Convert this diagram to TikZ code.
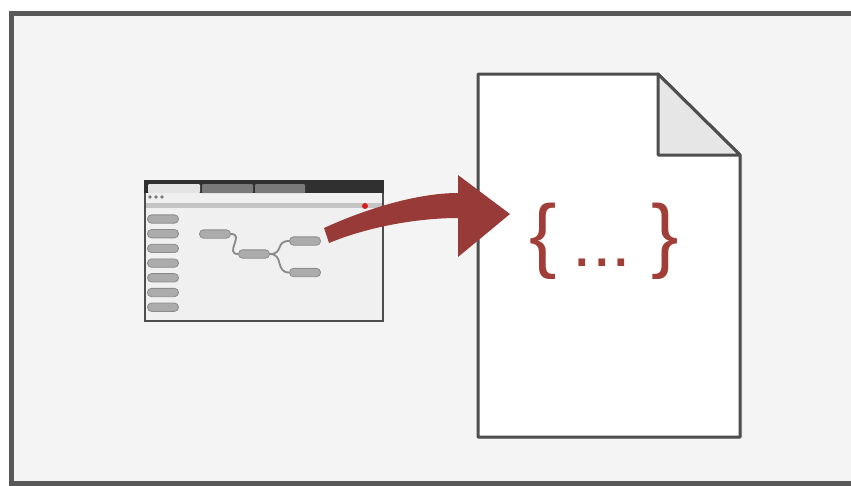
\documentclass[tikz,border=0pt]{standalone}
\usepackage{fontspec}
\setmainfont{Liberation Sans}
\usepackage{tikz}
\usetikzlibrary{shadows}
\definecolor{framegray}{RGB}{88,88,88}
\definecolor{papergray}{RGB}{244,244,244}
\definecolor{linegray}{RGB}{78,78,78}
\definecolor{windowgray}{RGB}{240,240,240}
\definecolor{bardark}{RGB}{48,48,48}
\definecolor{tabgray}{RGB}{122,122,122}
\definecolor{tablight}{RGB}{228,228,228}
\definecolor{addrgray}{RGB}{196,196,196}
\definecolor{pillgray}{RGB}{172,172,172}
\definecolor{pilledge}{RGB}{140,140,140}
\definecolor{wiregray}{RGB}{138,138,138}
\definecolor{arrowred}{RGB}{152,58,56}
\definecolor{bracered}{RGB}{160,62,55}
\definecolor{foldgray}{RGB}{230,230,230}
\definecolor{dotred}{RGB}{214,32,32}
\tikzset{
  browser/.style={
    draw=linegray, fill=windowgray, rectangle,
    minimum width=71.4mm, minimum height=42mm,
    line width=0.6mm, inner sep=0pt
  },
  pill/.style={
    draw=pilledge, fill=pillgray, rectangle, rounded corners=1.2mm,
    minimum width=9.3mm, minimum height=2.5mm,
    line width=0.25mm, inner sep=0pt
  },
  flowwire/.style={draw=wiregray, line width=0.55mm},
  docpage/.style={draw=linegray, fill=white, line width=0.9mm, line join=round},
  brace/.style={text=bracered, inner sep=0pt, font=\fontsize{70}{70}\selectfont},
  frameline/.style={draw=framegray, line width=1.5mm}
}

\begin{document}
\begin{tikzpicture}[x=0.3mm, y=-0.3mm]
  \useasboundingbox (0,0) rectangle (851,485);
  \fill[white] (0,0) rectangle (851,485);

  % Frame
  \fill[papergray] (11,13) rectangle (851,483);
  \draw[frameline] (851,13) -- (11,13) -- (11,483) -- (851,483);

  % Editor window
  \node[browser] (win) at (264,251) {};
  \fill[bardark] (144,180) rectangle (384,193);
  \fill[tablight, rounded corners=0.3mm] (148,184) -- (148,193) -- (200,193) -- (200,184) -- cycle;
  \fill[tabgray, rounded corners=0.3mm] (202,184) -- (202,193) -- (253,193) -- (253,184) -- cycle;
  \fill[tabgray, rounded corners=0.3mm] (255,184) -- (255,193) -- (305,193) -- (305,184) -- cycle;
  \foreach \x in {150,156,162}
    \fill[tabgray] (\x,197) circle (0.55mm);
  \fill[addrgray] (146,203) rectangle (382,208);
  \fill[dotred] (365,206) circle (0.9mm);

  % Palette column
  \foreach \i in {0,...,6}
    \node[pill] (side\i) at (163,219+14.7*\i) {};

  % Flow
  \node[pill] (f1) at (215,234) {};
  \node[pill] (f2) at (254,254) {};
  \node[pill] (f3) at (305,241) {};
  \node[pill] (f4) at (305,272.5) {};
  \draw[flowwire] (f1.east) .. controls +(14,0) and +(-14,0) .. (f2.west);
  \draw[flowwire] (f2.east) .. controls +(14,0) and +(-14,0) .. (f3.west);
  \draw[flowwire] (f2.east) .. controls +(14,0) and +(-14,0) .. (f4.west);

  % Document
  \filldraw[docpage, drop shadow={shadow xshift=0.7mm, shadow yshift=-0.5mm, opacity=0.18}]
    (478,74) -- (658,74) -- (740,155) -- (740,437) -- (478,437) -- cycle;
  \filldraw[docpage, fill=foldgray] (658,74) -- (658,155) -- (740,155) -- cycle;
  \node[brace] (lbrace) at (543.5,241.5) {\{};
  \node[brace, font=\fontsize{60}{60}\selectfont, anchor=base] (dots) at (602,266) {...};
  \node[brace] (rbrace) at (665.5,241.5) {\}};

  % Export arrow
  \fill[arrowred] (324,228) .. controls (370,207) and (420,193) .. (458,193)
    -- (458,175) -- (510,214) -- (458,257) -- (458,218)
    .. controls (420,218) and (370,226) .. (329,243) -- cycle;
\end{tikzpicture}
\end{document}
